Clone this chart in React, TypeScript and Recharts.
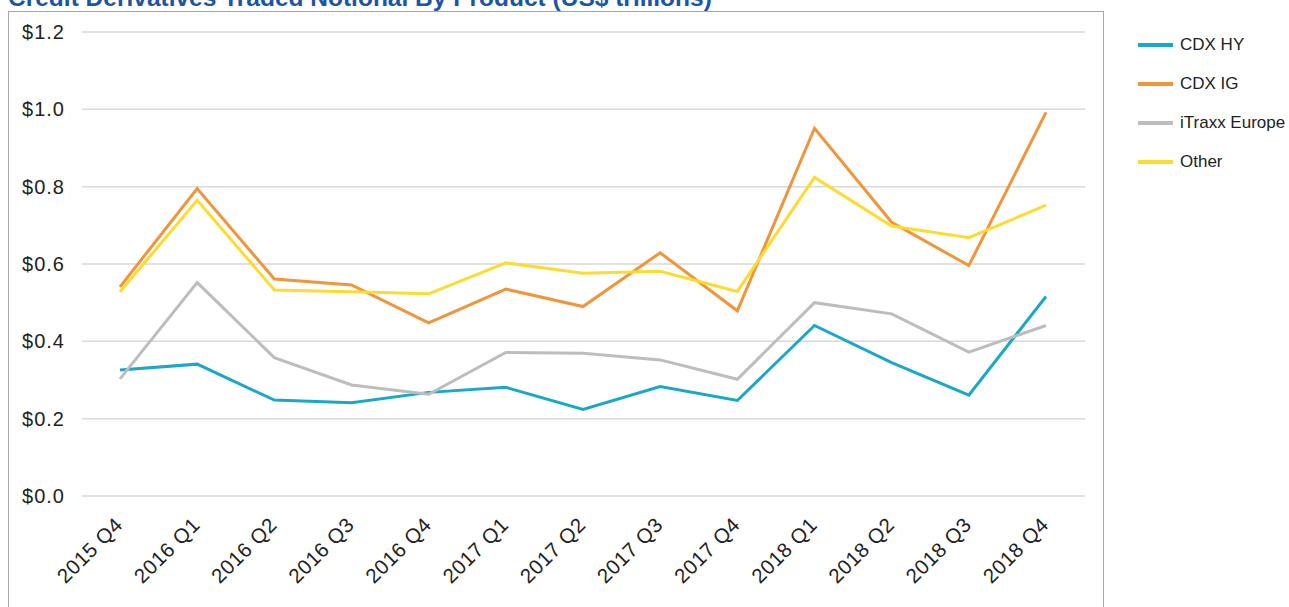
import { CartesianGrid, Line, LineChart, XAxis, YAxis } from "recharts";

const quarters = [
	"2015 Q4",
	"2016 Q1",
	"2016 Q2",
	"2016 Q3",
	"2016 Q4",
	"2017 Q1",
	"2017 Q2",
	"2017 Q3",
	"2017 Q4",
	"2018 Q1",
	"2018 Q2",
	"2018 Q3",
	"2018 Q4",
];

const cdxHy = [0.326, 0.341, 0.248, 0.241, 0.268, 0.281, 0.224, 0.283, 0.247, 0.441, 0.345, 0.261, 0.516];
const cdxIg = [0.541, 0.795, 0.561, 0.546, 0.448, 0.535, 0.49, 0.629, 0.479, 0.951, 0.708, 0.596, 0.992];
const itraxx = [0.303, 0.552, 0.358, 0.287, 0.263, 0.371, 0.369, 0.352, 0.302, 0.5, 0.471, 0.372, 0.441];
const other = [0.528, 0.765, 0.533, 0.528, 0.523, 0.603, 0.576, 0.581, 0.529, 0.824, 0.698, 0.668, 0.752];

const yTicks = [0, 0.2, 0.4, 0.6, 0.8, 1.0, 1.2];

const series = [
	{ key: "hy", name: "CDX HY", color: "#19a8c7" },
	{ key: "ig", name: "CDX IG", color: "#f0953a" },
	{ key: "itraxx", name: "iTraxx Europe", color: "#bdbdbd" },
	{ key: "other", name: "Other", color: "#fddb33" },
];

const data = quarters.map((q, i) => ({
	quarter: q,
	hy: cdxHy[i],
	ig: cdxIg[i],
	itraxx: itraxx[i],
	other: other[i],
}));

const FONT = "'Liberation Sans', Arial, sans-serif";

function QuarterTick({ x, y, payload }: any) {
	return (
		<g transform={`translate(${x + 4},${y + 30})`}>
			<text
				transform="rotate(-45)"
				textAnchor="end"
				fill="#222"
				fontSize={20.5}
				letterSpacing={0.6}
				fontFamily={FONT}
			>
				{payload.value}
			</text>
		</g>
	);
}

export default function App() {
	return (
		<div
			style={{
				position: "absolute",
				left: 0,
				top: 0,
				width: 1289,
				height: 607,
				overflow: "hidden",
				background: "#fff",
				fontFamily: FONT,
			}}
		>
			{/* title is clipped by the top edge, as in the source image */}
			<div
				style={{
					position: "absolute",
					left: 8,
					top: -16,
					fontSize: 24.5,
					fontWeight: 700,
					color: "#1c55a3",
					whiteSpace: "nowrap",
				}}
			>
				Credit Derivatives Traded Notional By Product (US$ trillions)
			</div>
			<div
				style={{
					position: "absolute",
					left: 8,
					top: 11,
					width: 1096,
					height: 640,
					border: "1px solid #a8a8a8",
					boxSizing: "border-box",
				}}
			/>
			<div style={{ position: "absolute", left: 0, top: 0 }}>
				<LineChart
					width={1289}
					height={607}
					data={data}
					margin={{ top: 32, right: 204, bottom: 0, left: 0 }}
				>
					<CartesianGrid vertical={false} stroke="#d9d9d9" strokeWidth={1.5} />
					<XAxis
						dataKey="quarter"
						axisLine={false}
						tickLine={false}
						tickSize={0}
						tickMargin={0}
						height={111}
						interval={0}
						padding={{ left: 38, right: 39 }}
						tick={<QuarterTick />}
					/>
					<YAxis
						domain={[0, 1.2]}
						ticks={yTicks}
						axisLine={false}
						tickLine={false}
						tickSize={0}
						tickMargin={17}
						width={82}
						tick={{ fill: "#222", fontSize: 20, fontFamily: FONT, letterSpacing: 1 }}
						tickFormatter={(v: number) => `$${v.toFixed(1)}`}
					/>
					{series.map((s) => (
						<Line
							key={s.key}
							type="linear"
							dataKey={s.key}
							name={s.name}
							stroke={s.color}
							strokeWidth={3}
							dot={false}
							activeDot={false}
							isAnimationActive={false}
						/>
					))}
				</LineChart>
			</div>
			<div style={{ position: "absolute", left: 1138, top: 33 }}>
				{series.map((s) => (
					<div
						key={s.key}
						style={{ display: "flex", alignItems: "center", height: 24, marginBottom: 15 }}
					>
						<div style={{ width: 35, height: 4, background: s.color, marginRight: 7 }} />
						<span style={{ fontSize: 17, color: "#222", whiteSpace: "nowrap" }}>{s.name}</span>
					</div>
				))}
			</div>
		</div>
	);
}
